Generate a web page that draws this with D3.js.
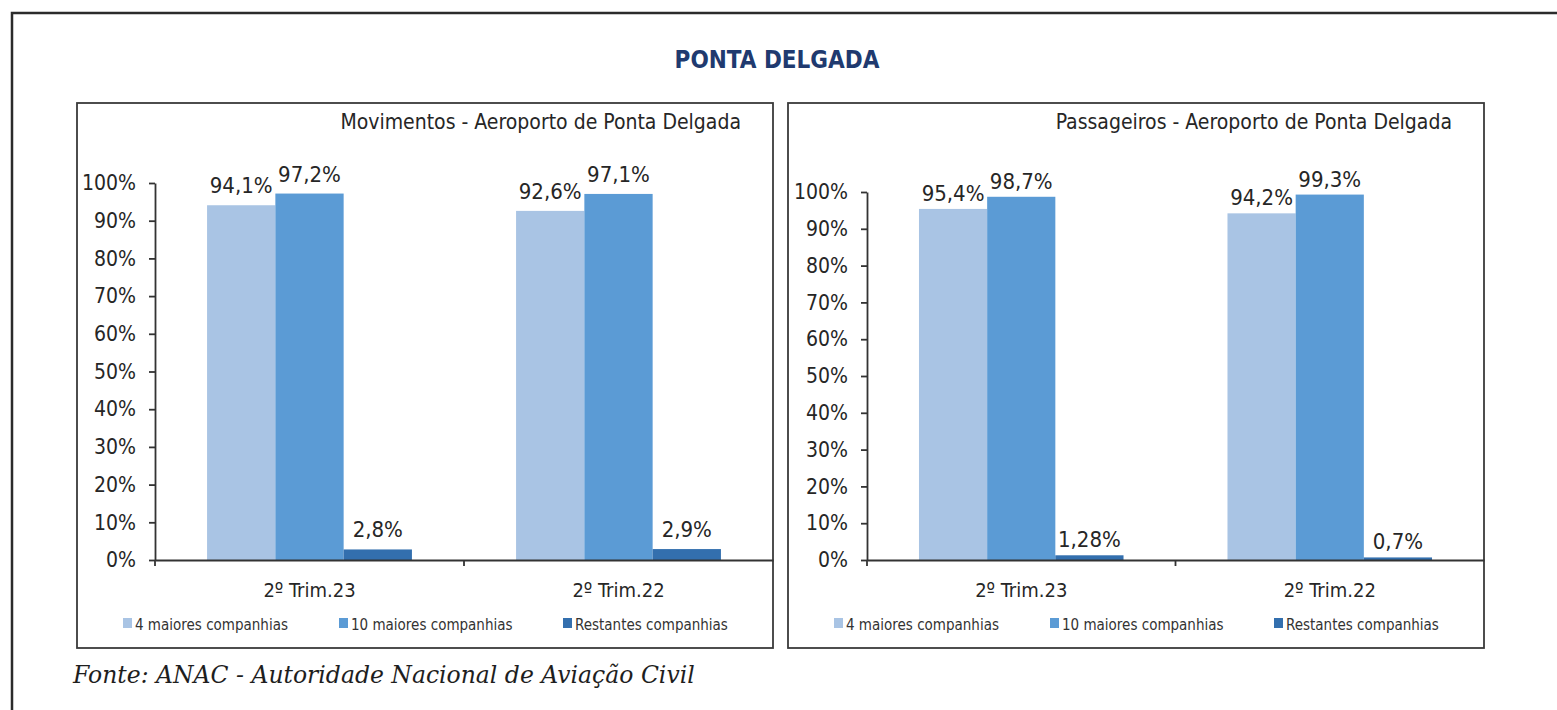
<html>
<head>
  <title>Ponta Delgada</title>
  <meta charset="utf-8" />
<script src="https://d3js.org/d3.v7.min.js"></script>
</head>
<style>
  body { margin: 0; background: #fff; }
  svg { display: block; }
  text { fill: #262626; }
  .cond { font-family: "DejaVu Sans Condensed", "DejaVu Sans", sans-serif; font-stretch: condensed; }
</style>
<body>
<svg class="main" width="1557" height="710"></svg>
</body>
  <footer>
<script>

// data
const categories = ["2º Trim.23", "2º Trim.22"]
const seriesNames = ["4 maiores companhias", "10 maiores companhias", "Restantes companhias"]
const colors = ["#a9c4e4", "#5b9bd5", "#336fae"]

const mov4 = [94.1, 92.6]
const mov10 = [97.2, 97.1]
const movRest = [2.8, 2.9]

const pas4 = [95.4, 94.2]
const pas10 = [98.7, 99.3]
const pasRest = [1.28, 0.7]

const yTicks = [0, 10, 20, 30, 40, 50, 60, 70, 80, 90, 100]

const panels = [
  { title: "Movimentos - Aeroporto de Ponta Delgada", series: [mov4, mov10, movRest],
    x: 77, axisX: 155, top100: 183, labelGap: 12 },
  { title: "Passageiros - Aeroporto de Ponta Delgada", series: [pas4, pas10, pasRest],
    x: 788, axisX: 867, top100: 192, labelGap: 8 }
]

const svg = d3.select("svg")
const fmt = v => String(v).replace(".", ",") + "%"

// outer frame
svg.append("rect")
  .attr("x", 12).attr("y", 13)
  .attr("width", 1580).attr("height", 740)
  .style("fill", "none")
  .style("stroke", "#2b2b2b")
  .style("stroke-width", 2.5)

svg.append("text")
  .attr("class", "cond")
  .attr("x", 777).attr("y", 68)
  .attr("text-anchor", "middle")
  .style("font-size", "24px")
  .style("font-weight", "bold")
  .style("fill", "#203a6f")
  .text("PONTA DELGADA")

const panelW = 696, panelTop = 103, panelH = 545, base = 560

panels.forEach(p => {
  const g = svg.append("g")

  g.append("rect")
    .attr("x", p.x).attr("y", panelTop)
    .attr("width", panelW).attr("height", panelH)
    .style("fill", "#fff")
    .style("stroke", "#3a3a3a")
    .style("stroke-width", 1.8)

  g.append("text")
    .attr("class", "cond")
    .attr("x", p.x + panelW - 32).attr("y", 129)
    .attr("text-anchor", "end")
    .style("font-size", "21px")
    .text(p.title)

  const x0 = d3.scaleBand()
    .domain(categories)
    .range([p.axisX, p.x + panelW])
    .paddingInner(0.337)
    .paddingOuter(0.1685)

  const x1 = d3.scaleBand()
    .domain(d3.range(seriesNames.length))
    .range([0, x0.bandwidth()])

  const y = d3.scaleLinear().domain([0, 100]).range([base, p.top100])

  const rows = []
  categories.forEach((c, ci) => {
    p.series.forEach((s, si) => rows.push({ cat: c, si: si, v: s[ci] }))
  })

  g.selectAll("rect.bar")
    .data(rows)
    .enter()
    .append("rect")
    .attr("class", "bar")
    .attr("x", d => x0(d.cat) + x1(d.si))
    .attr("width", x1.bandwidth())
    .attr("y", d => y(d.v))
    .attr("height", d => base - y(d.v))
    .style("fill", d => colors[d.si])

  g.selectAll("text.val")
    .data(rows)
    .enter()
    .append("text")
    .attr("class", "val cond")
    .attr("x", d => x0(d.cat) + x1(d.si) + x1.bandwidth() / 2)
    .attr("y", d => y(d.v) - p.labelGap)
    .attr("text-anchor", "middle")
    .style("font-size", "22px")
    .text(d => fmt(d.v))

  // y axis
  const ya = g.append("g")
    .attr("transform", `translate(${p.axisX},0)`)
    .call(d3.axisLeft(y).tickValues(yTicks).tickFormat(d => d + "%").tickSize(6).tickSizeOuter(0).tickPadding(13))
  ya.selectAll("text").attr("class", "cond").style("font-size", "21px").style("fill", "#262626")
  ya.selectAll("line, path").style("stroke", "#333").style("stroke-width", 1.8)

  // x axis
  const xa = g.append("g")
    .attr("transform", `translate(0,${base})`)
    .call(d3.axisBottom(x0).tickSize(0).tickSizeOuter(0).tickPadding(23))
  xa.selectAll("text").attr("class", "cond").style("font-size", "20px").style("fill", "#262626")
  xa.selectAll("path").style("stroke", "#333").style("stroke-width", 1.8)

  // tick marks between categories
  const step = x0.step()
  g.selectAll("line.sep")
    .data([0, 1])
    .enter()
    .append("line")
    .attr("x1", i => p.axisX + step * i)
    .attr("x2", i => p.axisX + step * i)
    .attr("y1", base)
    .attr("y2", base + 6)
    .style("stroke", "#333")
    .style("stroke-width", 1.8)

  // legend
  const legX = [46, 262, 486]
  const leg = g.selectAll("g.leg")
    .data(seriesNames)
    .enter()
    .append("g")
    .attr("transform", (d, i) => `translate(${p.x + legX[i]},618)`)
  leg.append("rect")
    .attr("width", 9).attr("height", 10)
    .style("fill", (d, i) => colors[i])
  leg.append("text")
    .attr("class", "cond")
    .attr("x", 12).attr("y", 12)
    .style("font-size", "15px")
    .style("fill", "#333")
    .text(d => d)
})

svg.append("text")
  .attr("x", 73).attr("y", 683)
  .style("font-family", "'DejaVu Serif', serif")
  .style("font-style", "italic")
  .style("font-size", "23.5px")
  .style("fill", "#1e1e1e")
  .text("Fonte: ANAC - Autoridade Nacional de Aviação Civil")

</script>
  </footer>

</html>
